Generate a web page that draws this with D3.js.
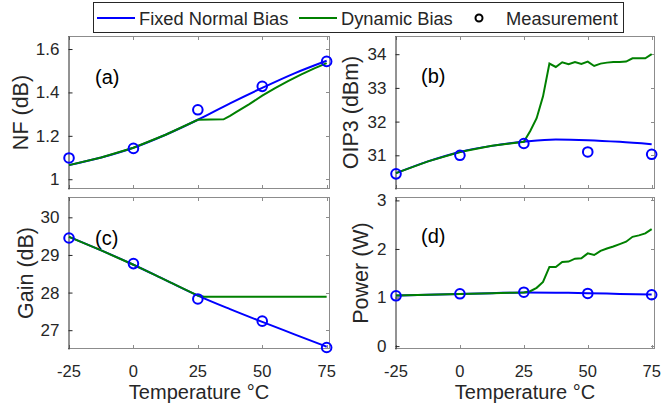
<!DOCTYPE html>
<html>
<head>
<meta charset="utf-8">
<script src="https://cdn.jsdelivr.net/npm/d3@7"></script>
<style>
  body { margin: 0; background: #fff; }
  svg { font-family: "Liberation Sans", Arial, sans-serif; }
</style>
</head>
<body>
<svg id="chart" width="663" height="409"></svg>
<script>
"use strict";

// temperatures
var measTemps = [-25, 0, 25, 50, 75];
var fixedTemps = [-25, -12.5, 0, 12.5, 25, 37.5, 50, 62.5, 75];
var dynTemps = [25, 27.5, 30, 32.5, 35, 37.5, 40, 42.5, 45, 47.5, 50,
                52.5, 55, 57.5, 60, 62.5, 65, 67.5, 70, 72.5, 75];
var xTicks = [-25, 0, 25, 50, 75];

// (a) NF
var nfFixed = [1.065, 1.100, 1.145, 1.205, 1.274, 1.350, 1.421, 1.488, 1.546];
var nfDynTemps = [25, 30, 35, 37.5, 40, 45, 50, 55, 60, 65, 70, 75];
var nfDyn = [1.274, 1.275, 1.276, 1.292, 1.310, 1.346, 1.385, 1.420, 1.452, 1.482, 1.510, 1.535];
var nfMeas = [1.098, 1.142, 1.320, 1.428, 1.543];

// (b) OIP3
var oipFixed = [30.47, 30.82, 31.10, 31.28, 31.40, 31.47, 31.45, 31.40, 31.33];
var oipDyn = [31.40, 31.72, 32.10, 32.75, 33.72, 33.62, 33.76, 33.70, 33.77, 33.71, 33.78,
              33.65, 33.72, 33.75, 33.77, 33.77, 33.78, 33.88, 33.88, 33.88, 34.00];
var oipMeas = [30.45, 31.00, 31.35, 31.10, 31.03];

// (c) Gain
var gainFixed = [29.48, 29.12, 28.74, 28.33, 27.92, 27.56, 27.22, 26.89, 26.56];
var gainDynTemps = [25, 27.5, 50, 75];
var gainDyn = [27.92, 27.89, 27.89, 27.89];
var gainMeas = [29.45, 28.77, 27.83, 27.24, 26.54];

// (d) Power
var powFixed = [1.04, 1.058, 1.075, 1.09, 1.105, 1.10, 1.09, 1.075, 1.06];
var powDyn = [1.105, 1.13, 1.20, 1.32, 1.63, 1.63, 1.73, 1.74, 1.80, 1.81, 1.91,
              1.875, 1.96, 2.01, 2.05, 2.10, 2.15, 2.25, 2.28, 2.32, 2.41];
var powMeas = [1.036, 1.077, 1.11, 1.084, 1.057];

var blue = "#0000ff";
var green = "#008000";
var dark = "#262626";
var gray = "#8c8c8c";

var panels = [
  { tag: "(a)", label: "NF (dB)", box: [68, 36, 330, 189], ydom: [0.955, 1.66],
    yticks: [1, 1.2, 1.4, 1.6], labelOff: 40, fixed: nfFixed,
    dynT: nfDynTemps, dyn: nfDyn, meas: nfMeas, tagPos: [95, 84], xlabels: false },
  { tag: "(b)", label: "OIP3 (dBm)", box: [395, 36, 655, 189], ydom: [30.0, 34.54],
    yticks: [31, 32, 33, 34], labelOff: 37, fixed: oipFixed,
    dynT: dynTemps, dyn: oipDyn, meas: oipMeas, tagPos: [421, 83], xlabels: false },
  { tag: "(c)", label: "Gain (dB)", box: [68, 197, 330, 349], ydom: [26.5, 30.54],
    yticks: [27, 28, 29, 30], labelOff: 35, fixed: gainFixed,
    dynT: gainDynTemps, dyn: gainDyn, meas: gainMeas, tagPos: [95, 245], xlabels: true },
  { tag: "(d)", label: "Power (W)", box: [395, 197, 655, 349], ydom: [-0.06, 3.07],
    yticks: [0, 1, 2, 3], labelOff: 27, fixed: powFixed,
    dynT: dynTemps, dyn: powDyn, meas: powMeas, tagPos: [421, 243], xlabels: true }
];

var svg = d3.select("#chart");

panels.forEach(function(p) {
  var x0 = p.box[0], y0 = p.box[1], x1 = p.box[2], y1 = p.box[3];
  var x = d3.scaleLinear().domain([-25.4, 76.3]).range([x0, x1]);
  var y = d3.scaleLinear().domain(p.ydom).range([y1, y0]);
  var g = svg.append("g");

  // box: top, right, bottom gray; left dark
  g.append("line").attr("x1", x0).attr("x2", x1).attr("y1", y0 + 0.5).attr("y2", y0 + 0.5)
    .attr("stroke", gray);
  g.append("line").attr("x1", x1 - 0.5).attr("x2", x1 - 0.5).attr("y1", y0).attr("y2", y1)
    .attr("stroke", gray);
  g.append("line").attr("x1", x0).attr("x2", x1).attr("y1", y1 - 0.5).attr("y2", y1 - 0.5)
    .attr("stroke", gray);

  // x ticks inside (bottom + top)
  var xt = g.append("g").attr("stroke", gray);
  xTicks.forEach(function(t) {
    var px = Math.round(x(t)) + 0.5;
    xt.append("line").attr("x1", px).attr("x2", px).attr("y1", y1).attr("y2", y1 - 4);
    xt.append("line").attr("x1", px).attr("x2", px).attr("y1", y0).attr("y2", y0 + 4);
  });
  // right ticks
  p.yticks.forEach(function(t) {
    var py = Math.round(y(t)) + 0.5;
    g.append("line").attr("x1", x1).attr("x2", x1 - 4).attr("y1", py).attr("y2", py)
      .attr("stroke", gray);
  });

  // left axis
  var ax = d3.axisLeft(y).tickValues(p.yticks).tickSizeInner(-4).tickSizeOuter(0)
    .tickPadding(9).tickFormat(d3.format(""));
  var axg = g.append("g").attr("transform", "translate(" + (x0 + 0.5) + ",0)").call(ax);
  axg.select(".domain").attr("stroke", dark);
  axg.selectAll(".tick line").attr("stroke", dark);
  axg.selectAll(".tick text").attr("fill", dark).attr("font-size", 17)
    .attr("font-family", "Liberation Sans, Arial, sans-serif");

  if (p.xlabels) {
    xTicks.forEach(function(t) {
      g.append("text").attr("x", x(t)).attr("y", y1 + 28).attr("text-anchor", "middle")
        .attr("font-size", 16.5).attr("fill", dark).text(t);
    });
    g.append("text").attr("x", (x0 + x1) / 2).attr("y", y1 + 50).attr("text-anchor", "middle")
      .attr("font-size", 20).attr("fill", dark).text("Temperature \u00B0C");
  }

  // y label
  g.append("text")
    .attr("transform", "translate(" + (x0 - p.labelOff) + "," + ((y0 + y1) / 2) + ") rotate(-90)")
    .attr("text-anchor", "middle").attr("font-size", 21.5).attr("fill", dark)
    .text(p.label);

  // panel tag
  g.append("text").attr("x", p.tagPos[0]).attr("y", p.tagPos[1])
    .attr("font-size", 20).attr("fill", "#000").text(p.tag);

  var line = d3.line().x(function(d) { return x(d[0]); }).y(function(d) { return y(d[1]); });

  g.append("path").datum(d3.zip(fixedTemps, p.fixed))
    .attr("d", line.curve(d3.curveMonotoneX))
    .attr("fill", "none").attr("stroke", blue).attr("stroke-width", 2);

  var dynData = d3.zip(fixedTemps.slice(0, 4), p.fixed.slice(0, 4)).concat(d3.zip(p.dynT, p.dyn));
  g.append("path").datum(dynData)
    .attr("d", line.curve(d3.curveLinear))
    .attr("fill", "none").attr("stroke", green).attr("stroke-width", 2);

  g.selectAll(".meas").data(d3.zip(measTemps, p.meas)).enter()
    .append("circle").attr("class", "meas")
    .attr("cx", function(d) { return x(d[0]); })
    .attr("cy", function(d) { return y(d[1]); })
    .attr("r", 4.8).attr("fill", "none").attr("stroke", blue).attr("stroke-width", 2);
});

// legend
var leg = svg.append("g").attr("font-size", 18.3);
leg.append("rect").attr("x", 93.5).attr("y", 2.5).attr("width", 530).attr("height", 30)
  .attr("fill", "#fff").attr("stroke", dark);
var legItems = [
  { name: "Fixed Normal Bias", type: "line", color: blue, x: 97, tx: 139 },
  { name: "Dynamic Bias", type: "line", color: green, x: 299, tx: 341 },
  { name: "Measurement", type: "circle", color: "#000", x: 479, tx: 506 }
];
legItems.forEach(function(it) {
  if (it.type === "line") {
    leg.append("line").attr("x1", it.x).attr("x2", it.x + 38).attr("y1", 18).attr("y2", 18)
      .attr("stroke", it.color).attr("stroke-width", 2);
  } else {
    leg.append("circle").attr("cx", it.x).attr("cy", 18).attr("r", 3.5)
      .attr("fill", "none").attr("stroke", it.color).attr("stroke-width", 2);
  }
  leg.append("text").attr("x", it.tx).attr("y", 24.5).attr("fill", dark).text(it.name);
});
</script>
</body>
</html>
